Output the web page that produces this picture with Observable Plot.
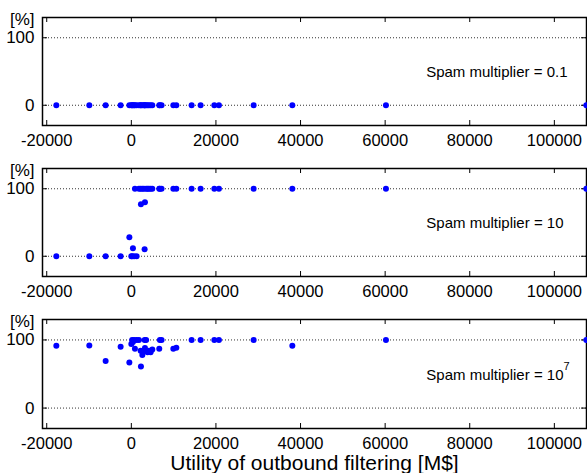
<!DOCTYPE html>
<html><head><meta charset="utf-8">
<script src="https://cdn.jsdelivr.net/npm/d3@7"></script>
<script src="https://cdn.jsdelivr.net/npm/@observablehq/plot@0.6"></script>
<style>
html,body{margin:0;padding:0;background:#fff}
#chart svg{display:block}
</style>
</head><body><div id="chart"></div>
<script>
// Utility of outbound filtering [M$] for each scenario
const utility = [-17730, -9930, -6075, -2530, -470, 0, 190, 380, 660, 850, 1250, 1800, 2200, 2270, 2600, 2980, 3140, 3220, 3500, 3830, 4160, 4560, 4960, 6600, 6750, 7150, 9930, 10640, 14250, 16380, 19620, 20710, 28910, 38060, 60190, 107560];
// Share [%] for spam multiplier = 0.1
const shareLow = [0, 0, 0, 0, 0, 0, 0, 0, 0, 0, 0, 0, 0, 0, 0, 0, 0, 0, 0, 0, 0, 0, 0, 0, 0, 0, 0, 0, 0, 0, 0, 0, 0, 0, 0, 0];
// Share [%] for spam multiplier = 10
const shareMid = [0, 0, 0, 0, 28, 0, 0, 12, 0, 100, 0, 100, 100, 77, 100, 100, 10.5, 80, 100, 100, 100, 100, 100, 100, 100, 100, 100, 100, 100, 100, 100, 100, 100, 100, 100, 100];
// Share [%] for spam multiplier = 10^7
const shareHigh = [91.6, 92, 69, 90, 67, 94, 100, 97, 100, 87, 100, 100, 84, 61, 78, 83, 100, 88, 100, 82, 84, 82, 86, 87, 100, 100, 87, 88.6, 100, 100, 100, 100, 100, 91.6, 100, 100];

const panelLabels = ["Spam multiplier = 0.1", "Spam multiplier = 10", "Spam multiplier = 10"];
const panelExponents = [null, null, "7"];
const xTicks = [-20000, 0, 20000, 40000, 60000, 80000, 100000];
const yTicks = [0, 100];
const yUnit = "[%]";
const xTitle = "Utility of outbound filtering [M$]";

const FONT = "'Liberation Sans', Arial, Helvetica, sans-serif";
const TICK = 5;
const WIDTH = 587, ML = 42, MR = 1, MT = 17;

function panel(values, label, exponent, labelDx, last) {
  const data = utility.map((x, i) => ({x, y: values[i]}));
  const height = last ? 171 : 151;
  const mb = last ? 45 : 26;
  const innerH = height - MT - mb;
  const innerW = WIDTH - ML - MR;
  const marks = [
    Plot.ruleY(yTicks, {stroke: "#333", strokeDasharray: "1,2"}),
    // inward ticks on all four sides
    Plot.tickX(xTicks, {x: d => d, insetTop: innerH - TICK, stroke: "#000"}),
    Plot.tickX(xTicks, {x: d => d, insetBottom: innerH - TICK, stroke: "#000"}),
    Plot.tickY(yTicks, {y: d => d, insetRight: innerW - TICK, stroke: "#000"}),
    Plot.tickY(yTicks, {y: d => d, insetLeft: innerW - TICK, stroke: "#000"}),
    // tick labels
    Plot.axisX(xTicks, {anchor: "bottom", tickSize: 0, tickPadding: 9, label: null, fontSize: 16.5, fill: "#000", tickFormat: d => String(d)}),
    Plot.axisY(yTicks, {anchor: "left", tickSize: 0, tickPadding: 8, label: null, fontSize: 17, fill: "#000", tickFormat: d => String(d)}),
    Plot.frame({stroke: "#000", strokeWidth: 1.5}),
    Plot.text([yUnit], {frameAnchor: "top-left", textAnchor: "end", lineAnchor: "middle", dx: -8, dy: 2, fontSize: 17, fill: "#000", text: d => d}),
    Plot.dot(data, {x: "x", y: "y", r: 3, fill: "#0000ff", stroke: "none"}),
    Plot.text([label], {frameAnchor: "right", textAnchor: "end", lineAnchor: "middle", dx: labelDx, dy: 1, fontSize: 15, fill: "#000", text: d => d})
  ];
  if (exponent) {
    marks.push(Plot.text([exponent], {frameAnchor: "right", textAnchor: "start", lineAnchor: "middle", dx: labelDx, dy: -8, fontSize: 11, fill: "#000", text: d => d}));
  }
  if (last) {
    marks.push(Plot.text([xTitle], {frameAnchor: "bottom", lineAnchor: "bottom", dy: 41, fontSize: 21, fill: "#000", text: d => d}));
  }
  return Plot.plot({
    width: WIDTH,
    height,
    marginLeft: ML,
    marginRight: MR,
    marginTop: MT,
    marginBottom: mb,
    style: {fontFamily: FONT, background: "#fff", color: "#000"},
    x: {domain: [-21000, 107600]},
    y: {domain: [-30, 130]},
    marks
  });
}

const chart = document.getElementById("chart");
chart.appendChild(panel(shareLow, panelLabels[0], panelExponents[0], -19, false));
chart.appendChild(panel(shareMid, panelLabels[1], panelExponents[1], -23, false));
chart.appendChild(panel(shareHigh, panelLabels[2], panelExponents[2], -23, true));
</script>
</body></html>
